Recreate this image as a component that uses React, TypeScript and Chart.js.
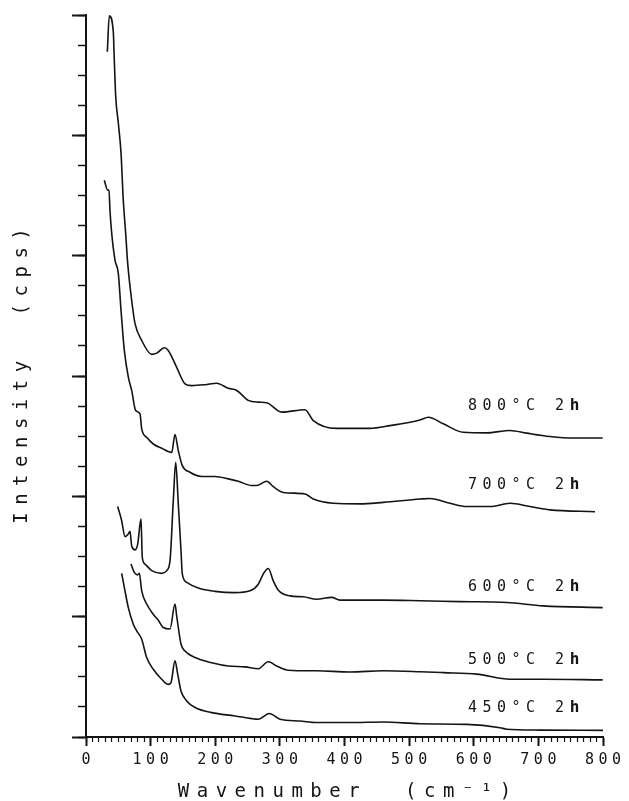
import React, { useEffect, useRef } from 'react';
import { Chart, registerables } from 'chart.js';

Chart.register(...registerables);

// ---- Data (wavenumber in cm^-1, intensity in stacked arbitrary units) ----
const seriesNames = ['800°C 2h', '700°C 2h', '600°C 2h', '500°C 2h', '450°C 2h'];

const wn800 = [33.0, 36.1, 42.2, 43.8, 46.0, 50.0, 54.2, 57.7, 61.4, 64.5, 70.7, 75.8, 86.2, 101.7, 109.4, 121.2, 127.3, 140.3, 153.2, 163.5, 184.1, 202.2, 220.2, 233.2, 251.1, 266.6, 279.6, 302.8, 338.9, 351.7, 387.9, 439.4, 470.4, 516.8, 529.6, 552.9, 583.8, 620.0, 656.1, 681.9, 718.0, 754.0, 799.5];
const int800 = [22.78, 23.97, 23.45, 22.50, 21.28, 20.41, 19.41, 17.84, 16.74, 15.75, 14.51, 13.75, 13.18, 12.72, 12.76, 12.94, 12.85, 12.29, 11.74, 11.68, 11.71, 11.76, 11.59, 11.52, 11.19, 11.13, 11.11, 10.80, 10.88, 10.52, 10.26, 10.26, 10.35, 10.54, 10.63, 10.41, 10.13, 10.11, 10.19, 10.10, 9.99, 9.94, 9.94];

const wn700 = [28.3, 33.6, 35.6, 37.1, 39.8, 44.9, 50.0, 54.2, 59.3, 65.5, 70.7, 76.9, 83.6, 86.2, 93.9, 104.1, 117.1, 132.6, 137.7, 142.8, 149.0, 160.9, 179.0, 199.6, 220.2, 235.7, 256.4, 264.1, 279.6, 289.8, 305.3, 338.9, 351.7, 382.6, 423.9, 460.0, 516.8, 532.3, 563.2, 589.1, 625.1, 656.1, 687.0, 718.0, 787.6];
const int700 = [18.51, 18.18, 18.18, 17.51, 16.74, 15.85, 15.41, 14.18, 12.85, 11.96, 11.52, 10.85, 10.74, 10.24, 9.96, 9.74, 9.60, 9.46, 10.05, 9.52, 9.02, 8.80, 8.66, 8.66, 8.58, 8.50, 8.36, 8.36, 8.50, 8.32, 8.13, 8.08, 7.91, 7.77, 7.75, 7.80, 7.91, 7.93, 7.77, 7.66, 7.66, 7.77, 7.66, 7.55, 7.49];

const wn600 = [49.0, 55.2, 60.3, 65.5, 68.1, 70.7, 75.8, 80.0, 85.1, 87.1, 91.3, 101.7, 117.1, 124.9, 130.0, 135.1, 138.8, 142.8, 147.0, 149.0, 155.8, 173.8, 199.6, 230.5, 253.8, 266.6, 274.3, 282.1, 289.8, 297.6, 315.7, 336.2, 357.0, 380.2, 393.0, 460.0, 516.8, 578.7, 651.0, 707.6, 799.5];
const int600 = [7.66, 7.19, 6.66, 6.75, 6.84, 6.35, 6.22, 6.41, 7.25, 5.97, 5.75, 5.53, 5.44, 5.53, 5.86, 7.86, 9.13, 7.76, 6.19, 5.42, 5.14, 4.95, 4.84, 4.80, 4.86, 5.08, 5.42, 5.60, 5.19, 4.88, 4.69, 4.66, 4.58, 4.64, 4.55, 4.55, 4.53, 4.50, 4.47, 4.36, 4.30];

const wn500 = [69.6, 74.7, 80.0, 82.5, 86.2, 93.9, 104.1, 111.9, 119.6, 130.0, 137.7, 140.3, 147.0, 153.2, 168.7, 194.5, 220.2, 246.0, 266.6, 282.1, 295.1, 313.0, 357.0, 408.5, 460.0, 516.8, 552.9, 604.5, 656.1, 707.6, 799.5];
const int500 = [5.75, 5.47, 5.39, 5.44, 4.86, 4.42, 4.08, 3.88, 3.64, 3.59, 4.42, 4.03, 3.09, 2.86, 2.64, 2.47, 2.36, 2.33, 2.27, 2.50, 2.36, 2.22, 2.20, 2.16, 2.20, 2.17, 2.14, 2.09, 1.92, 1.92, 1.90];

const wn450 = [55.2, 60.3, 65.5, 73.2, 78.4, 86.2, 93.9, 104.1, 117.1, 127.3, 131.5, 137.7, 141.9, 147.0, 155.8, 168.7, 194.5, 230.5, 256.4, 266.6, 283.6, 300.2, 331.1, 357.0, 408.5, 460.0, 516.8, 589.1, 640.6, 651.0, 702.5, 800.0];
const int450 = [5.44, 4.86, 4.30, 3.75, 3.53, 3.25, 2.64, 2.25, 1.92, 1.75, 1.81, 2.53, 2.09, 1.53, 1.20, 0.98, 0.81, 0.70, 0.61, 0.59, 0.78, 0.59, 0.53, 0.48, 0.48, 0.50, 0.44, 0.42, 0.31, 0.26, 0.23, 0.22];

const xTickValues = [0, 100, 200, 300, 400, 500, 600, 700, 800];

// label anchors (in axis units), kept apart from the data
const labelX = 591;
const labelY = [10.87, 8.26, 4.86, 2.43, 0.83];

const FONT = '"DejaVu Sans Mono", "Liberation Mono", monospace';
const INK = '#141414';
const TICK_SPACING = 4.5;

const textPlugin = {
  id: 'plotterText',
  beforeUpdate(chart: any) {
    chart.ctx.letterSpacing = `${TICK_SPACING}px`;
  },
  beforeDraw(chart: any) {
    chart.ctx.letterSpacing = `${TICK_SPACING}px`;
  },
  afterDraw(chart: any) {
    const { ctx, chartArea, scales } = chart;
    ctx.save();
    ctx.fillStyle = INK;
    ctx.textBaseline = 'alphabetic';
    ctx.textAlign = 'left';

    // series labels (the trailing "h" is heavier in the original)
    ctx.letterSpacing = '5.5px';
    seriesNames.forEach((name, i) => {
      const x = scales.x.getPixelForValue(labelX);
      const y = scales.y.getPixelForValue(labelY[i]);
      const head = name.slice(0, -1);
      const tail = name.slice(-1);
      ctx.font = `15px ${FONT}`;
      ctx.fillText(head, x, y);
      const w = ctx.measureText(head).width;
      ctx.font = `bold 16px ${FONT}`;
      ctx.fillText(tail, x + w, y);
    });

    // axis titles
    ctx.font = `19px ${FONT}`;
    ctx.letterSpacing = '7.5px';
    ctx.textAlign = 'center';
    const cx = (chartArea.left + chartArea.right) / 2;
    ctx.fillText('Wavenumber  (cm⁻¹)', cx + 3.75, 797);

    const cy = (chartArea.top + chartArea.bottom) / 2;
    ctx.translate(27, cy);
    ctx.rotate(-Math.PI / 2);
    ctx.fillText('Intensity  (cps)', 3.75, 0);
    ctx.restore();
  },
};

export default function App() {
  const ref = useRef<HTMLCanvasElement>(null);

  useEffect(() => {
    const mk = (xs: number[], ys: number[]) => xs.map((x, i) => ({ x, y: ys[i] }));
    const datasets = [
      mk(wn800, int800),
      mk(wn700, int700),
      mk(wn600, int600),
      mk(wn500, int500),
      mk(wn450, int450),
    ].map((data, i) => ({
      label: seriesNames[i],
      data,
      borderColor: INK,
      borderWidth: 1.6,
      pointRadius: 0,
      fill: false,
      cubicInterpolationMode: 'monotone' as const,
    }));

    const chart = new Chart(ref.current!, {
      type: 'line',
      data: { datasets },
      plugins: [textPlugin],
      options: {
        animation: false,
        responsive: true,
        maintainAspectRatio: false,
        layout: { padding: { left: 72, top: 15, right: 26, bottom: 27 } },
        plugins: { legend: { display: false }, tooltip: { enabled: false } },
        scales: {
          x: {
            type: 'linear',
            position: 'bottom',
            min: 0,
            max: 800,
            afterBuildTicks: (s: any) => {
              s.ticks = xTickValues.map((v) => ({ value: v }));
            },
            ticks: {
              color: INK,
              font: { family: FONT, size: 15 },
              padding: 5,
              maxRotation: 0,
              autoSkip: false,
              labelOffset: TICK_SPACING / 2,
            },
            grid: { drawOnChartArea: false, tickLength: 9, tickWidth: 2, tickColor: INK, color: INK },
            border: { display: true, color: INK, width: 2 },
          },
          xMinor: {
            type: 'linear',
            axis: 'x',
            position: { y: 0 },
            min: 0,
            max: 800,
            ticks: { stepSize: 10, display: false },
            grid: { drawOnChartArea: false, tickLength: 5, tickWidth: 1.2, tickColor: INK, color: INK },
            border: { display: false },
          },
          y: {
            type: 'linear',
            position: 'left',
            min: 0,
            max: 24,
            ticks: { stepSize: 4, display: false },
            grid: { drawOnChartArea: false, tickLength: 14, tickWidth: 2, tickColor: INK, color: INK },
            border: { display: true, color: INK, width: 2 },
          },
          yMinor: {
            type: 'linear',
            axis: 'y',
            position: { x: 0 },
            min: 0,
            max: 24,
            ticks: { stepSize: 1, display: false },
            grid: { drawOnChartArea: false, tickLength: 8, tickWidth: 1.5, tickColor: INK, color: INK },
            border: { display: false },
          },
        },
      } as any,
    });
    return () => chart.destroy();
  }, []);

  return (
    <div style={{ position: 'absolute', left: 0, top: 0, width: 629, height: 801 }}>
      <canvas ref={ref} />
    </div>
  );
}
